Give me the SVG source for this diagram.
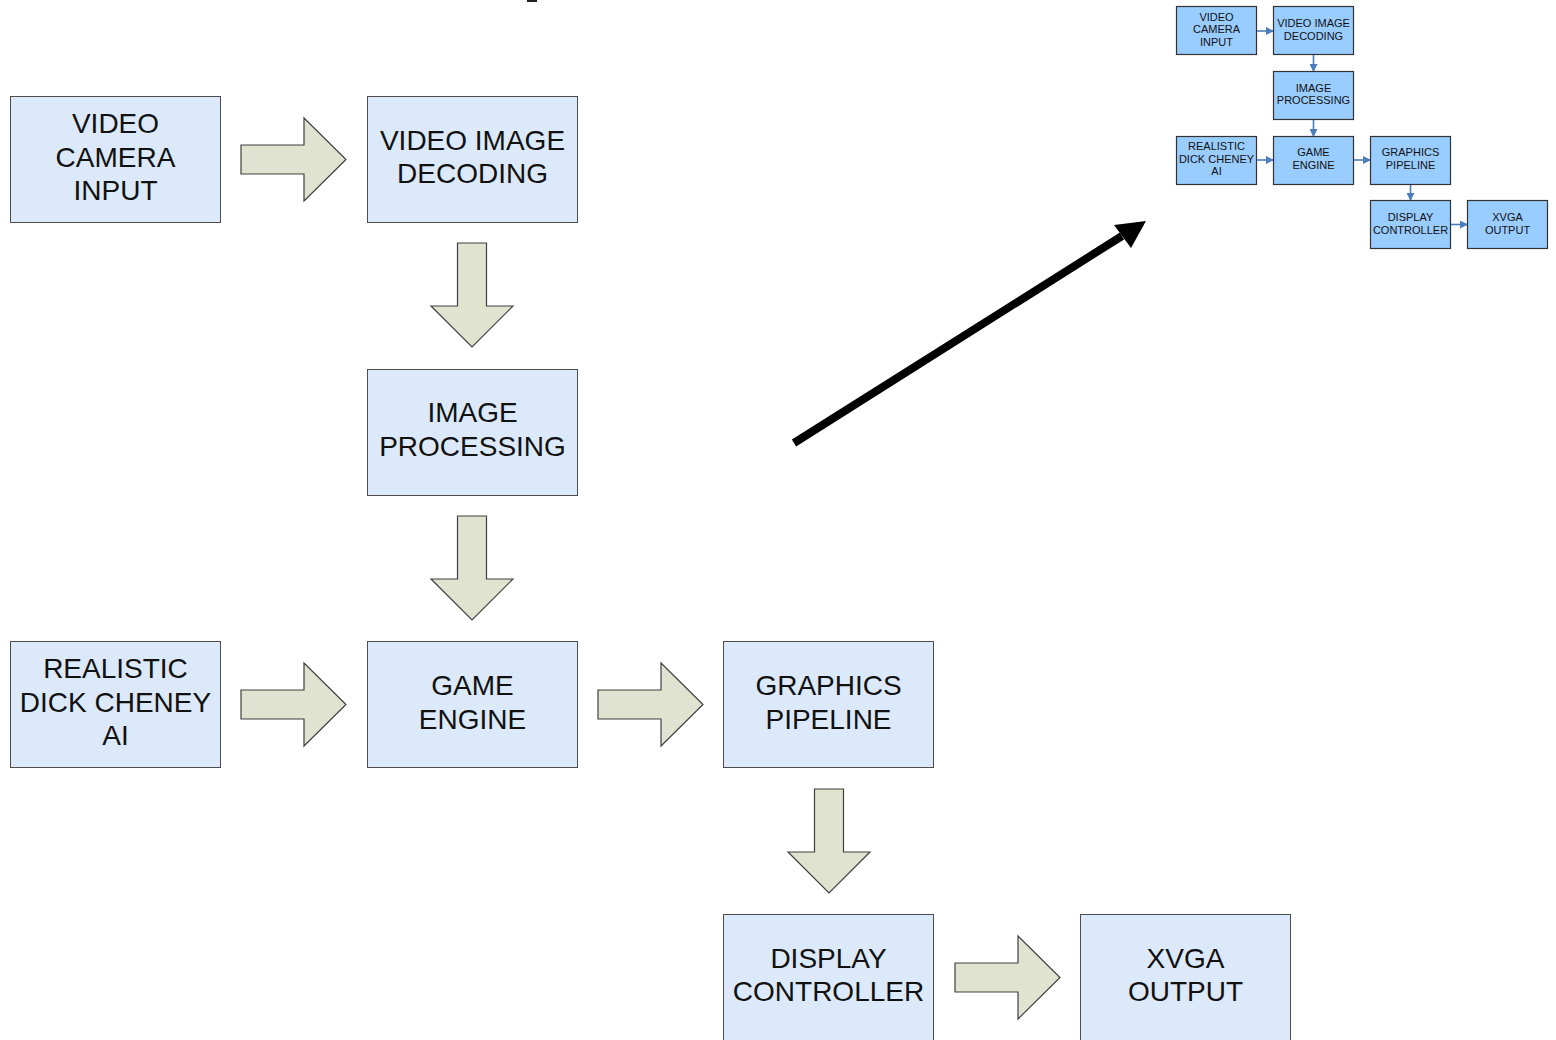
<svg xmlns="http://www.w3.org/2000/svg" width="1556" height="1040" viewBox="0 0 1556 1040">
<style>
.big rect{fill:#dbe9fb;stroke:#4d4d4d;stroke-width:1}
.big text{font-family:"Liberation Sans",Arial,sans-serif;font-size:28px;fill:#111;text-anchor:middle}
.small rect{fill:#99ccff;stroke:#333;stroke-width:1.2}
.small text{font-family:"Liberation Sans",Arial,sans-serif;font-size:11px;fill:#111;text-anchor:middle}
.blk{fill:#dfe3cf;stroke:#404040;stroke-width:1.2}
.sc{stroke:#4a7ebb;stroke-width:1.6;fill:none;marker-end:url(#ah)}
</style>
<defs>
<marker id="ah" markerWidth="8" markerHeight="8" refX="7" refY="4" orient="auto" markerUnits="userSpaceOnUse"><path d="M0,0 L8,4 L0,8 Z" fill="#4a7ebb"/></marker>
</defs>
<rect width="1556" height="1040" fill="#fff"/>
<rect x="527" y="0" width="10" height="2" fill="#222"/>

<g id="n-camera" class="big"><rect x="10.5" y="96.5" width="210" height="126"/><text x="115.5" y="133">VIDEO</text><text x="115.5" y="167">CAMERA</text><text x="115.5" y="200">INPUT</text></g>
<g id="n-decoding" class="big"><rect x="367.5" y="96.5" width="210" height="126"/><text x="472.5" y="150">VIDEO IMAGE</text><text x="472.5" y="183">DECODING</text></g>
<g id="n-processing" class="big"><rect x="367.5" y="369.5" width="210" height="126"/><text x="472.5" y="422">IMAGE</text><text x="472.5" y="456">PROCESSING</text></g>
<g id="n-cheney" class="big"><rect x="10.5" y="641.5" width="210" height="126"/><text x="115.5" y="678">REALISTIC</text><text x="115.5" y="712">DICK CHENEY</text><text x="115.5" y="745">AI</text></g>
<g id="n-game" class="big"><rect x="367.5" y="641.5" width="210" height="126"/><text x="472.5" y="695">GAME</text><text x="472.5" y="729">ENGINE</text></g>
<g id="n-graphics" class="big"><rect x="723.5" y="641.5" width="210" height="126"/><text x="828.5" y="695">GRAPHICS</text><text x="828.5" y="729">PIPELINE</text></g>
<g id="n-display" class="big"><rect x="723.5" y="914.5" width="210" height="130"/><text x="828.5" y="968">DISPLAY</text><text x="828.5" y="1001">CONTROLLER</text></g>
<g id="n-xvga" class="big"><rect x="1080.5" y="914.5" width="210" height="130"/><text x="1185.5" y="968">XVGA</text><text x="1185.5" y="1001">OUTPUT</text></g>

<g id="connectors">
<path class="blk" d="M241,145 H304 V118 L346,159.5 L304,201 V174 H241 Z"/>
<path class="blk" d="M457.5,243 H486.5 V306 H513 L472,347 L431,306 H457.5 Z"/>
<path class="blk" d="M457.5,516 H486.5 V579 H513 L472,620 L431,579 H457.5 Z"/>
<path class="blk" d="M241,690 H304 V663 L346,704.5 L304,746 V719 H241 Z"/>
<path class="blk" d="M598,690 H661 V663 L703,704.5 L661,746 V719 H598 Z"/>
<path class="blk" d="M814.5,789 H843.5 V852 H870 L829,893 L788,852 H814.5 Z"/>
<path class="blk" d="M955,963 H1018 V936 L1060,977.5 L1018,1019 V992 H955 Z"/>
<line x1="794" y1="443" x2="1122" y2="236" stroke="#000" stroke-width="8"/>
<path d="M1146,221 L1114,225 L1131,248 Z" fill="#000"/>
<line class="sc" x1="1257" y1="31" x2="1273" y2="31"/>
<line class="sc" x1="1313.5" y1="54" x2="1313.5" y2="71"/>
<line class="sc" x1="1313.5" y1="119" x2="1313.5" y2="136"/>
<line class="sc" x1="1257" y1="160" x2="1273" y2="160"/>
<line class="sc" x1="1354" y1="160" x2="1370" y2="160"/>
<line class="sc" x1="1410.5" y1="184" x2="1410.5" y2="200"/>
<line class="sc" x1="1451" y1="224.5" x2="1467" y2="224.5"/>
</g>

<g id="s-camera" class="small"><rect x="1176.5" y="6.5" width="80" height="48"/><text x="1216.5" y="21">VIDEO</text><text x="1216.5" y="33">CAMERA</text><text x="1216.5" y="46">INPUT</text></g>
<g id="s-decoding" class="small"><rect x="1273.5" y="6.5" width="80" height="48"/><text x="1313.5" y="27">VIDEO IMAGE</text><text x="1313.5" y="40">DECODING</text></g>
<g id="s-processing" class="small"><rect x="1273.5" y="71.5" width="80" height="48"/><text x="1313.5" y="92">IMAGE</text><text x="1313.5" y="104">PROCESSING</text></g>
<g id="s-cheney" class="small"><rect x="1176.5" y="136.5" width="80" height="48"/><text x="1216.5" y="150">REALISTIC</text><text x="1216.5" y="163">DICK CHENEY</text><text x="1216.5" y="175">AI</text></g>
<g id="s-game" class="small"><rect x="1273.5" y="136.5" width="80" height="48"/><text x="1313.5" y="156">GAME</text><text x="1313.5" y="169">ENGINE</text></g>
<g id="s-graphics" class="small"><rect x="1370.5" y="136.5" width="80" height="48"/><text x="1410.5" y="156">GRAPHICS</text><text x="1410.5" y="169">PIPELINE</text></g>
<g id="s-display" class="small"><rect x="1370.5" y="200.5" width="80" height="48"/><text x="1410.5" y="221">DISPLAY</text><text x="1410.5" y="234">CONTROLLER</text></g>
<g id="s-xvga" class="small"><rect x="1467.5" y="200.5" width="80" height="48"/><text x="1507.5" y="221">XVGA</text><text x="1507.5" y="234">OUTPUT</text></g>
</svg>
